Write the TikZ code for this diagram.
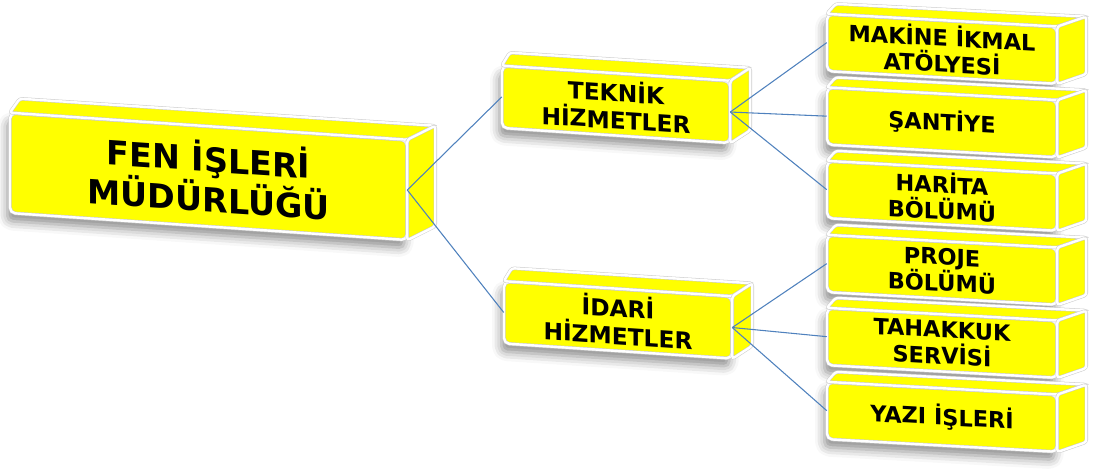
\documentclass[tikz,border=0pt]{standalone}
\usepackage{fontspec}
\setmainfont{DejaVu Sans}
\usetikzlibrary{shadows.blur}

\definecolor{boxyellow}{HTML}{FFFF00}
\definecolor{linkblue}{HTML}{4F81BD}

\tikzset{
  cubefront/.style = {fill = boxyellow, draw = gray!40, double = white, double distance = 1.8pt,
    line width = 0.4pt, rounded corners = 4pt, align = center, inner sep = 0pt,
    blur shadow = {shadow xshift = -2pt, shadow yshift = -6pt, shadow blur radius = 7pt, shadow opacity = 45}},
  mainbox/.style = {cubefront, minimum width = 397*0.75pt, minimum height = 100*0.75pt, yslant = -0.068,
    font = \bfseries\fontsize{25}{30}\selectfont},
  midbox/.style = {cubefront, minimum width = 228*0.75pt, minimum height = 62*0.75pt, yslant = -0.066,
    font = \bfseries\fontsize{17.5}{20.5}\selectfont},
  subbox/.style = {cubefront, minimum width = 230*0.75pt, minimum height = 57*0.75pt, yslant = -0.055,
    font = \bfseries\fontsize{16.8}{19.5}\selectfont},
  cubeface/.style = {fill = boxyellow, draw = gray!40, double = white, double distance = 1.8pt,
    line width = 0.4pt, rounded corners = 2pt},
  link/.style = {draw = linkblue, line width = 0.8pt}
}

% top and side face of a box: node, left dx, right dx, dy
\newcommand{\cubefaces}[4]{%
\filldraw[cubeface] (#1.north west) -- (#1.north east) -- ++(#3,#4) -- ([shift={(#2,#4)}]#1.north west) -- cycle;
\filldraw[cubeface] (#1.north east) -- ++(#3,#4) -- ([shift={(#3,#4)}]#1.south east) -- (#1.south east) -- cycle;
}

\begin{document}
\begin{tikzpicture}[x = 0.75pt, y = 0.75pt]
\useasboundingbox (0,0) rectangle (1095,468);

\node[mainbox] (fen) at (208.5,291.5) {FEN İŞLERİ\\MÜDÜRLÜĞÜ};
\cubefaces{fen}{10}{28}{14}

\node[midbox] (teknik) at (616,363.5) {TEKNİK\\HİZMETLER};
\cubefaces{teknik}{8}{20}{13}
\node[midbox] (idari) at (618,148) {İDARİ\\HİZMETLER};
\cubefaces{idari}{8}{20}{13}

\node[subbox] (makine) at (942,419) {MAKİNE İKMAL\\ATÖLYESİ};
\cubefaces{makine}{9}{29}{10}
\node[subbox] (santiye) at (942,345.5) {ŞANTİYE};
\cubefaces{santiye}{9}{29}{10}
\node[subbox] (harita) at (942,272) {HARİTA\\BÖLÜMÜ};
\cubefaces{harita}{9}{29}{10}
\node[subbox] (proje) at (942,198) {PROJE\\BÖLÜMÜ};
\cubefaces{proje}{9}{29}{10}
\node[subbox] (tahakkuk) at (942,125) {TAHAKKUK\\SERVİSİ};
\cubefaces{tahakkuk}{9}{29}{10}
\node[subbox] (yazi) at (942,51) {YAZI İŞLERİ};
\cubefaces{yazi}{9}{29}{10}

% connectors
\draw[link] (fen.east) -- (teknik.west);
\draw[link] (fen.east) -- (idari.west);
\draw[link] (teknik.east) -- (makine.west);
\draw[link] (teknik.east) -- (santiye.west);
\draw[link] (teknik.east) -- (harita.west);
\draw[link] (idari.east) -- (proje.west);
\draw[link] (idari.east) -- (tahakkuk.west);
\draw[link] (idari.east) -- (yazi.west);
\end{tikzpicture}
\end{document}
